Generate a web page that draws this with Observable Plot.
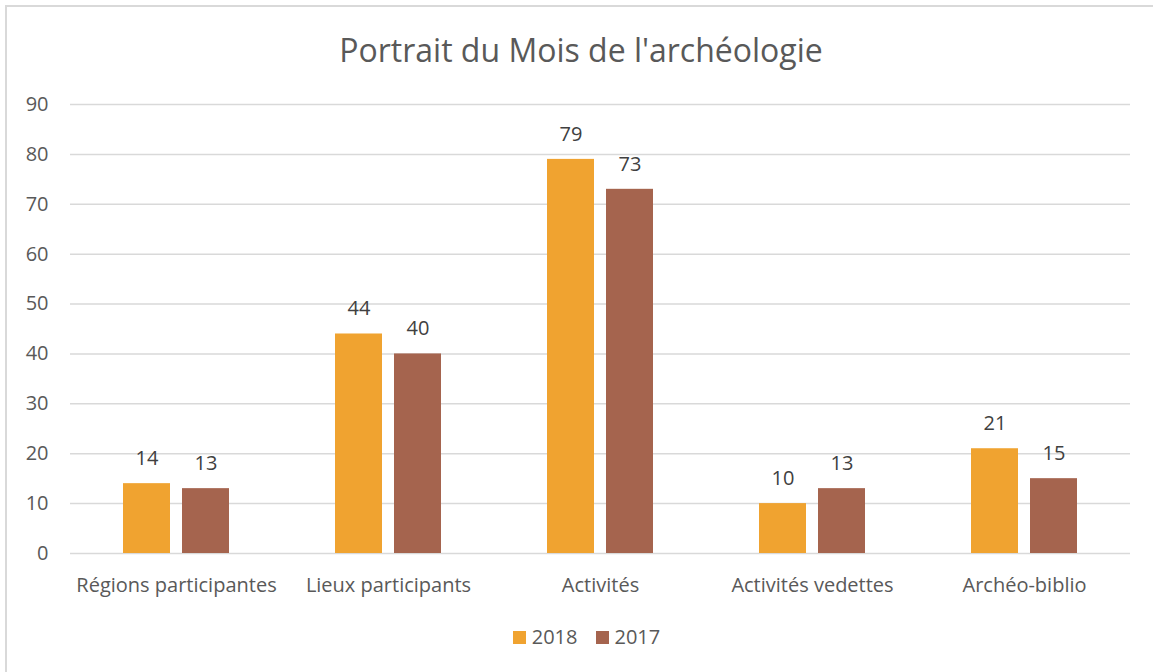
<!DOCTYPE html>
<html>
<head>
<meta charset="utf-8">
<script src="https://cdn.jsdelivr.net/npm/d3@7"></script>
<script src="https://cdn.jsdelivr.net/npm/@observablehq/plot@0.6"></script>
<style>
  html, body { margin: 0; padding: 0; background: #fff; overflow: hidden; }
  body { width: 1153px; height: 672px; position: relative; font-family: "Open Sans", sans-serif; color: #595959; }
  #frame { position: absolute; left: 5px; top: 5px; width: 1170px; height: 700px; border: 2px solid #d9d9d9; box-sizing: border-box; }
  #title { position: absolute; left: 0; top: 28px; width: 1162px; text-align: center; font-size: 32px; line-height: 44px; color: #595959; }
  #chart { position: absolute; left: 0; top: 90px; }
  #legend { position: absolute; left: 0; top: 623px; width: 1173px; display: flex; justify-content: center; align-items: center; font-size: 20px; line-height: 28px; color: #595959; }
  .item { display: flex; align-items: center; margin: 0 9px; }
  .sw { width: 13px; height: 13px; margin-right: 6px; }
</style>
</head>
<body>
<div id="frame"></div>
<div id="title">Portrait du Mois de l'archéologie</div>
<div id="chart"></div>
<div id="legend"></div>
<script>
const categories = ["Régions participantes", "Lieux participants", "Activités", "Activités vedettes", "Archéo-biblio"];
const series = ["2018", "2017"];
const values2018 = [14, 44, 79, 10, 21];
const values2017 = [13, 40, 73, 13, 15];
const yTicks = [0, 10, 20, 30, 40, 50, 60, 70, 80, 90];
const colors = ["#f0a330", "#a5644e"];

const data = [];
categories.forEach((c, i) => {
  data.push({category: c, year: "2018", value: values2018[i]});
  data.push({category: c, year: "2017", value: values2017[i]});
});

const plot = Plot.plot({
  width: 1153,
  height: 510,
  marginLeft: 70,
  marginRight: 23,
  marginTop: 14,
  marginBottom: 47,
  style: {fontFamily: "Open Sans, sans-serif", fontSize: "20px", color: "#595959", background: "transparent"},
  fx: {domain: categories, padding: 0, label: null},
  x: {domain: series, paddingInner: 0.2, paddingOuter: 0.867, axis: null},
  y: {domain: [0, 90], label: null},
  color: {domain: series, range: colors},
  marks: [
    Plot.gridY(yTicks, {stroke: "#d9d9d9", strokeOpacity: 1, strokeWidth: 1.5}),
    Plot.axisY(yTicks, {tickSize: 0, tickPadding: 22, fontSize: 20, fill: "#595959", label: null}),
    Plot.axisFx({anchor: "bottom", tickSize: 0, tickPadding: 24, fontSize: 20, fill: "#595959", label: null}),
    Plot.barY(data, {fx: "category", x: "year", y: "value", fill: "year"}),
    Plot.text(data, {fx: "category", x: "year", y: "value", text: d => String(d.value), dy: -25, fontSize: 20, fill: "#404040"})
  ]
});
document.getElementById("chart").appendChild(plot);

const legend = document.getElementById("legend");
series.forEach((s, i) => {
  const item = document.createElement("div");
  item.className = "item";
  const sw = document.createElement("div");
  sw.className = "sw";
  sw.style.background = colors[i];
  const t = document.createElement("span");
  t.textContent = s;
  item.appendChild(sw);
  item.appendChild(t);
  legend.appendChild(item);
});
</script>
</body>
</html>
